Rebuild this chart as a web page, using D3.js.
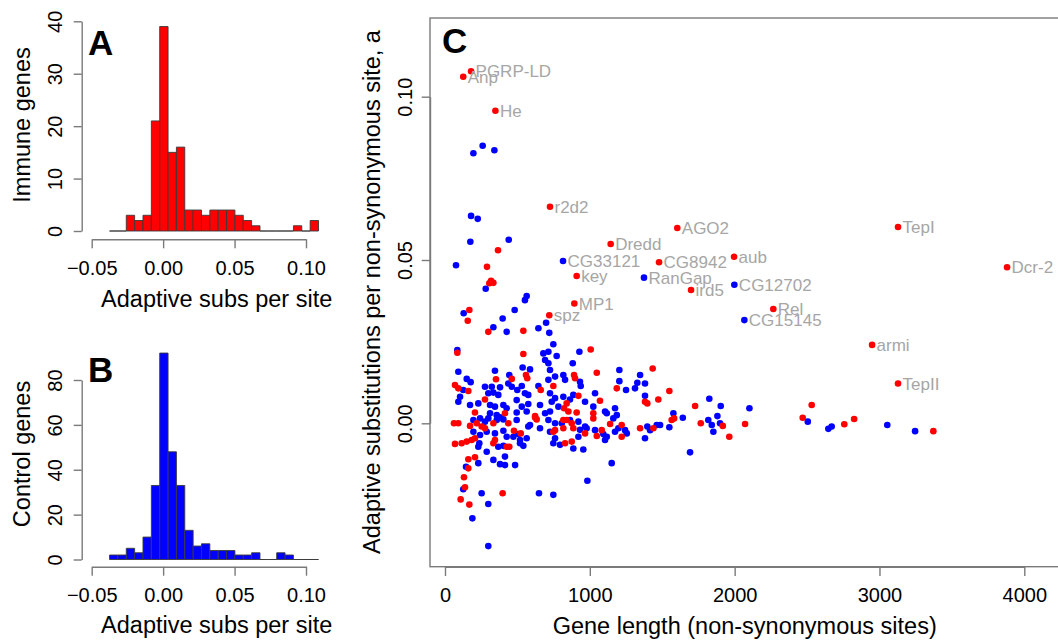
<!DOCTYPE html>
<html><head><meta charset="utf-8">
<script src="https://cdn.jsdelivr.net/npm/d3@7"></script>
<style>
html,body{margin:0;padding:0;background:#fff;}
svg{display:block;font-family:"Liberation Sans",Arial,sans-serif;}
</style></head>
<body><svg id="chart" width="1058" height="640"></svg>
<script>
// ---------------- DATA ----------------
// Histogram bins (shared breaks)
const binStart = -0.0375;
const binWidth = 0.00585;
const immuneCounts  = [0,0,3,2,3,21,39,15,16,4,4,3,4,4,4,3,2,1,0,0,0,0,1,0,2];
const controlCounts = [2,2,5,3,10,33,92,48,33,13,6,7,4,4,4,2,2,3,0,0,3,2,0,0,0];
const histXTicks = [-0.05, 0.00, 0.05, 0.10];
const immuneYTicks = [0,10,20,30,40];
const controlYTicks = [0,20,40,60,80];

// Scatter: immune genes (red)
const immuneLen = [366,290,318,306,334,168,157,299,541,85,541,559,568,461,352,69,92,161,276,661,748,207,414,622,
 1006,891,898,1048,1434,1186,1549,1473,1381,1397,1070,921,840,822,852,1024,909,
 1727,1565,1582,1766,1918,2072,1963,2470,2532,2757,2825,3372,
 62,92,173,219,253,276,334,437,476,523,622,633,748,760,
 69,115,150,184,207,334,345,426,444,161,207,161,131,138,108,168,398,
 1024,817,840,875,886,817,967,1048,1082,1140,1220,1220,829,875,1347,1439];
const immuneA = [0.0530,0.0479,0.0436,0.0429,0.0430,0.0347,0.0314,0.0280,0.0283,0.0216,0.0212,0.0148,0.0138,0.0136,0.0135,0.0117,0.0107,0.0099,0.0073,0.0102,0.0114,0.0033,0.0031,0.0022,
 0.0226,0.0148,0.0138,0.0155,0.0168,0.0107,0.0099,0.0073,0.0066,0.0061,0.0069,0.0084,0.0061,0.0046,0.0036,0.0031,0.0033,
 0.0053,0.0010,0.0015,0.0000,-0.0008,-0.0002,-0.0041,0.0017,0.0056,-0.0003,0.0013,-0.0024,
 0.0000,0.0000,-0.0008,0.0000,-0.0010,-0.0015,0.0000,0.0000,-0.0023,-0.0031,0.0018,0.0012,-0.0026,-0.0021,
 -0.0063,-0.0061,-0.0056,-0.0051,-0.0046,-0.0061,-0.0051,-0.0072,-0.0072,-0.0110,-0.0104,-0.0138,-0.0165,-0.0196,-0.0233,-0.0249,-0.0214,
 0.0015,0.0010,0.0010,0.0000,-0.0015,-0.0015,-0.0031,-0.0039,-0.0021,-0.0002,-0.0005,-0.0041,-0.0061,-0.0056,-0.0015,-0.0015];

// Scatter: control genes (blue)
const controlLen = [196,260,341,180,226,175,440,76,281,564,552,481,398,129,
 334,426,645,698,720,85,679,714,691,714,771,748,
 92,345,444,536,587,725,714,760,150,177,126,104,276,323,380,299,334,368,437,461,
 499,530,552,575,645,725,760,92,173,230,311,345,403,426,495,530,575,656,737,725,
 311,357,495,564,691,783,
 928,882,817,829,932,937,1204,1204,1250,1312,1328,1347,1381,1381,
 1036,967,886,863,817,1024,1105,1174,1186,1577,1642,
 1825,1904,2102,1549,1485,1818,1842,1853,1881,1899,1692,2505,2647,2670,3054,3246,
 196,242,276,299,357,380,403,495,575,587,656,714,725,760,
 196,242,288,345,403,426,472,506,518,564,760,748,
 237,230,288,368,403,518,541,334,380,414,414,484,230,145,126,253,299,649,748,189,299,
 806,863,921,932,967,978,1036,1093,1105,1117,1174,1197,1243,1255,
 921,794,886,955,1381,1397,1462,1416,1151,983,1117,1162];
const controlA = [0.0827,0.0850,0.0836,0.0635,0.0626,0.0556,0.0562,0.0484,0.0412,0.0390,0.0377,0.0347,0.0321,0.0337,
 0.0294,0.0280,0.0291,0.0308,0.0277,0.0224,0.0214,0.0219,0.0194,0.0184,0.0206,0.0242,
 0.0158,0.0161,0.0148,0.0171,0.0165,0.0163,0.0133,0.0143,0.0136,0.0126,0.0102,0.0081,0.0112,0.0112,0.0110,0.0092,0.0094,0.0087,0.0122,0.0112,
 0.0102,0.0114,0.0092,0.0087,0.0114,0.0092,0.0077,0.0066,0.0056,0.0061,0.0056,0.0051,0.0056,0.0046,0.0071,0.0051,0.0059,0.0056,0.0066,0.0036,
 0.0031,0.0025,0.0033,0.0036,0.0031,0.0051,
 0.0219,0.0184,0.0148,0.0133,0.0127,0.0114,0.0163,0.0129,0.0102,0.0107,0.0124,0.0148,0.0122,0.0084,
 0.0092,0.0066,0.0087,0.0073,0.0081,0.0051,0.0036,0.0046,0.0025,0.0031,0.0017,
 0.0075,0.0053,0.0046,-0.0012,-0.0005,0.0010,-0.0005,-0.0026,0.0022,0.0000,-0.0089,0.0005,-0.0017,-0.0010,-0.0005,-0.0024,
 0.0010,0.0015,0.0005,0.0015,0.0010,0.0018,0.0012,0.0010,-0.0010,-0.0005,-0.0015,0.0010,-0.0026,0.0000,
 -0.0026,-0.0036,-0.0026,-0.0031,-0.0023,-0.0041,-0.0041,-0.0033,-0.0051,-0.0046,-0.0046,-0.0061,
 -0.0061,-0.0072,-0.0087,-0.0072,-0.0069,-0.0061,-0.0069,-0.0112,-0.0125,-0.0102,-0.0128,-0.0128,-0.0122,-0.0133,-0.0202,-0.0214,-0.0247,-0.0214,-0.0219,-0.0291,-0.0376,
 0.0000,0.0010,0.0005,-0.0020,-0.0010,-0.0015,-0.0021,-0.0033,-0.0051,-0.0041,-0.0026,-0.0015,-0.0021,-0.0031,
 -0.0041,-0.0066,-0.0077,-0.0080,-0.0046,-0.0010,-0.0005,-0.0021,-0.0122,-0.0176,0.0031,0.0015];

// Labelled genes
const labelNames = ["PGRP-LD","Anp","He","r2d2","AGO2","Dredd","CG33121","CG8942","aub","key","RanGap","ird5","CG12702","MP1","spz","Rel","CG15145","armi","TepII","TepI","Dcr-2"];
const labelLen   = [180,126,348,725,1604,1144,815,1478,1996,909,1374,1699,1998,893,720,2267,2067,2949,3128,3128,3881];
const labelA     = [0.1078,0.1061,0.0957,0.0663,0.0598,0.0549,0.0497,0.0493,0.0510,0.0451,0.0446,0.0408,0.0424,0.0367,0.0331,0.0350,0.0316,0.0240,0.0122,0.0601,0.0478];
const labelGroup = ["immune","immune","immune","immune","immune","immune","control","immune","immune","immune","control","immune","control","immune","immune","immune","control","immune","immune","immune","immune"];

const scatterXTicks = [0,1000,2000,3000,4000];
const scatterYTicks = [0,0.05,0.10];

// ---------------- DRAW ----------------
const svg = d3.select("#chart");
const RED = "#ff0000", BLUE = "#0000ff", AXIS = "#7a7a7a", FONT = 20, TITLE = 23.5;

function styleAxis(g){
  g.selectAll("path.domain").attr("stroke", AXIS).attr("stroke-width", 1.4);
  g.selectAll(".tick line").attr("stroke", AXIS).attr("stroke-width", 1.4);
  g.selectAll(".tick text").attr("fill", "#000").attr("font-size", FONT)
    .attr("font-family", '"Liberation Sans",Arial,sans-serif');
}
function rotateYLabels(g, off){
  g.selectAll(".tick text").attr("transform","rotate(-90)")
    .attr("x",0).attr("y",-off).attr("dy",null).attr("text-anchor","middle");
}
function bottomLabels(g, off){
  g.selectAll(".tick text").attr("y", off).attr("dy", null);
}

function histogram(counts, yMax, yTicks, yTop, yBottom, xAxisY, fill, ylabel, ylabY, letter, letterY, xlabY){
  const x = d3.scaleLinear().domain([-0.05,0.10]).range([91.7,306]);
  const y = d3.scaleLinear().domain([0,yMax]).range([yBottom,yTop]);
  const g = svg.append("g");
  g.selectAll("path.bar").data(counts).join("path").attr("class","bar")
    .attr("d",(c,i)=>{
      const x0 = x(binStart+i*binWidth), x1 = x(binStart+(i+1)*binWidth);
      return `M${x0},${y(0)}V${y(c)}H${x1}V${y(0)}Z`;
    })
    .attr("fill",fill).attr("stroke","#3a3a3a").attr("stroke-width",0.9);
  const ax = g.append("g").attr("transform",`translate(0,${xAxisY})`)
    .call(d3.axisBottom(x).tickValues(histXTicks).tickFormat(d3.format(".2f")).tickSize(9).tickSizeOuter(0));
  styleAxis(ax); bottomLabels(ax, 35.5);
  const ay = g.append("g").attr("transform","translate(81.7,0)")
    .call(d3.axisLeft(y).tickValues(yTicks).tickFormat(d3.format("d")).tickSize(8).tickSizeOuter(0));
  styleAxis(ay); rotateYLabels(ay, 19.7);
  g.append("text").attr("transform",`translate(30,${ylabY}) rotate(-90)`).attr("text-anchor","middle")
    .attr("font-size",TITLE).text(ylabel);
  g.append("text").attr("x",216.7).attr("y",xlabY).attr("text-anchor","middle").attr("font-size",TITLE)
    .text("Adaptive subs per site");
  g.append("text").attr("x",88).attr("y",letterY).attr("font-size",35).attr("font-weight","bold").text(letter);
}

histogram(immuneCounts, 40, immuneYTicks, 21.3, 231, 239.3, RED, "Immune genes", 125, "A", 55, 307);
histogram(controlCounts, 80, controlYTicks, 380, 559.5, 566.7, BLUE, "Control genes", 454, "B", 382, 633);

// Panel C
const xs = d3.scaleLinear().domain([0,4000]).range([445,1024.3]);
const ys = d3.scaleLinear().domain([0,0.10]).range([423.3,96.7]);
const gc = svg.append("g");
gc.append("rect").attr("x",430).attr("y",18).attr("width",660).attr("height",548.7)
  .attr("fill","none").attr("stroke",AXIS).attr("stroke-width",1.4);
const cx = gc.append("g").attr("transform","translate(0,566.7)")
  .call(d3.axisBottom(xs).tickValues(scatterXTicks).tickFormat(d3.format("d")).tickSize(9.3).tickSizeOuter(0));
styleAxis(cx); bottomLabels(cx, 35);
const cy = gc.append("g").attr("transform","translate(430,0)")
  .call(d3.axisLeft(ys).tickValues(scatterYTicks).tickFormat(d3.format(".2f")).tickSize(8.3).tickSizeOuter(0));
styleAxis(cy); rotateYLabels(cy, 18);

const ctrl = controlLen.map((l,i)=>({l, a:controlA[i]}));
const imm = immuneLen.map((l,i)=>({l, a:immuneA[i]}));
const labs = labelNames.map((n,i)=>({n, l:labelLen[i], a:labelA[i], grp:labelGroup[i]}));

gc.selectAll("circle.ctrl").data(ctrl).join("circle").attr("class","ctrl")
  .attr("cx",d=>xs(d.l)).attr("cy",d=>ys(d.a)).attr("r",3.3).attr("fill",BLUE);
gc.selectAll("circle.imm").data(imm).join("circle").attr("class","imm")
  .attr("cx",d=>xs(d.l)).attr("cy",d=>ys(d.a)).attr("r",3.3).attr("fill",RED);
gc.selectAll("circle.lab").data(labs).join("circle").attr("class","lab")
  .attr("cx",d=>xs(d.l)).attr("cy",d=>ys(d.a)).attr("r",3.3)
  .attr("fill",d=>d.grp==="immune"?RED:BLUE);
gc.selectAll("text.lab").data(labs).join("text").attr("class","lab")
  .attr("x",d=>xs(d.l)+4.5).attr("y",d=>ys(d.a)).attr("dy","0.36em")
  .attr("font-size",17).attr("fill","#a6a6a6").text(d=>d.n);

gc.append("text").attr("x",442).attr("y",53).attr("font-size",35).attr("font-weight","bold").text("C");
gc.append("text").attr("x",744.7).attr("y",634).attr("text-anchor","middle").attr("font-size",TITLE)
  .text("Gene length (non-synonymous sites)");
gc.append("text").attr("transform","translate(380,292) rotate(-90)").attr("text-anchor","middle")
  .attr("font-size",TITLE).text("Adaptive substitutions per non-synonymous site, a");
</script></body></html>
